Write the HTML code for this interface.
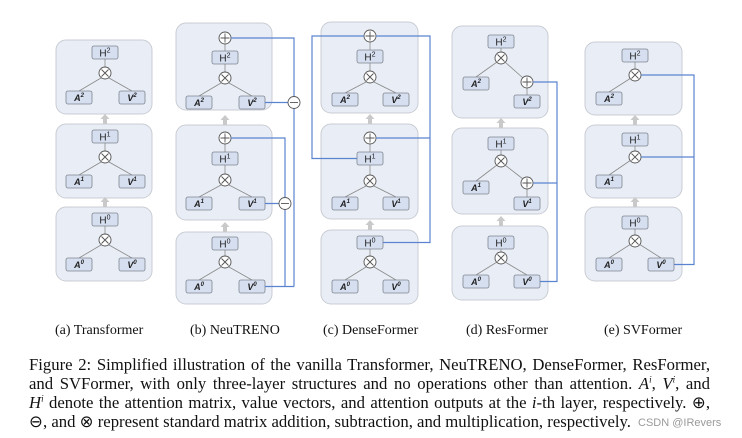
<!DOCTYPE html>
<html><head><meta charset="utf-8"><style>
body{margin:0;background:#fff;width:742px;height:438px;overflow:hidden;position:relative}
svg{position:absolute;left:0;top:0}
.blk{fill:#e9edf5;stroke:#c9ccd3;stroke-width:1}
.bx{fill:#d6dff0;stroke:#7f8590;stroke-width:.8}
.ln{stroke:#8a8a8a;stroke-width:.8;fill:none}
.op{fill:#fff;stroke:#555;stroke-width:.9}
.bl{stroke:#5b84d0;stroke-width:1.2;fill:none}
text.l{font-family:"Liberation Sans",sans-serif;font-size:10px;text-anchor:middle;fill:#222}
text.i{font-style:italic;font-weight:bold;font-size:9px}
.cap{position:absolute;font-family:"Liberation Serif",serif;font-size:14px;color:#111;white-space:nowrap}
.fl{position:absolute;left:29px;width:681px;height:19px;font-family:"Liberation Serif",serif;font-size:16.7px;line-height:19px;color:#111;text-align:justify;text-align-last:justify;white-space:nowrap}
.fl sup{font-size:9px;line-height:0}
.wm{position:absolute;left:638px;top:417px;font-family:"Liberation Sans",sans-serif;font-size:11px;color:#999}
</style></head><body>
<svg width="742" height="438" viewBox="0 0 742 438">
<defs>
<g id="tm"><circle class="op" r="6"/><path d="M-3.5-3.5L3.5 3.5M3.5-3.5L-3.5 3.5" stroke="#555" stroke-width=".9"/></g>
<g id="pl"><circle class="op" r="6"/><path d="M-4.5 0H4.5M0-4.5V4.5" stroke="#555" stroke-width=".9"/></g>
<g id="mi"><circle class="op" r="6"/><path d="M-4 0H4" stroke="#555" stroke-width=".9"/></g>
<g id="ar"><path d="M-2 0V-5H-4.5L0-10L4.5-5H2V0Z" fill="#c9c9c9"/></g>
</defs>

<!-- (a) -->
<g>
<rect class="blk" x="56" y="40" width="96" height="74" rx="10"/>
<rect class="blk" x="56" y="124" width="96" height="74" rx="10"/>
<rect class="blk" x="56" y="207" width="96" height="74" rx="10"/>
<use href="#ar" x="105" y="124"/><use href="#ar" x="105" y="207"/>
<path class="ln" d="M105 59V67M101 78L79 91M109 78L132 91M105 143V151M101 162L79 175M109 162L132 175M105 226V234M101 245L79 258M109 245L132 258"/>
<rect class="bx" x="92" y="46" width="26" height="13" rx="2"/><text class="l" x="105" y="56.5">H<tspan dy="-4" font-size="7">2</tspan></text>
<use href="#tm" x="105" y="73"/>
<rect class="bx" x="66" y="91" width="26" height="13" rx="2"/><text class="l i" x="79" y="101">A<tspan dy="-4" font-size="6">2</tspan></text>
<rect class="bx" x="119" y="91" width="26" height="13" rx="2"/><text class="l i" x="132" y="101">V<tspan dy="-4" font-size="6">2</tspan></text>
<rect class="bx" x="92" y="130" width="26" height="13" rx="2"/><text class="l" x="105" y="140.5">H<tspan dy="-4" font-size="7">1</tspan></text>
<use href="#tm" x="105" y="157"/>
<rect class="bx" x="66" y="175" width="26" height="13" rx="2"/><text class="l i" x="79" y="185">A<tspan dy="-4" font-size="6">1</tspan></text>
<rect class="bx" x="119" y="175" width="26" height="13" rx="2"/><text class="l i" x="132" y="185">V<tspan dy="-4" font-size="6">1</tspan></text>
<rect class="bx" x="92" y="213" width="26" height="13" rx="2"/><text class="l" x="105" y="223.5">H<tspan dy="-4" font-size="7">0</tspan></text>
<use href="#tm" x="105" y="240"/>
<rect class="bx" x="66" y="258" width="26" height="13" rx="2"/><text class="l i" x="79" y="268">A<tspan dy="-4" font-size="6">0</tspan></text>
<rect class="bx" x="119" y="258" width="26" height="13" rx="2"/><text class="l i" x="132" y="268">V<tspan dy="-4" font-size="6">0</tspan></text>
</g>

<!-- (b) -->
<g>
<rect class="blk" x="176" y="23" width="96" height="87" rx="10"/>
<rect class="blk" x="176" y="125" width="96" height="95" rx="10"/>
<rect class="blk" x="176" y="232" width="96" height="72" rx="10"/>
<use href="#ar" x="225" y="125"/><use href="#ar" x="225" y="232"/>
<path class="ln" d="M225 44V51M225 64V72M221 83L199 96M229 83L252 96M225 144V152M225 165V174M221 185L199 197M229 185L252 197M225 250V256M221 267L199 280M229 267L252 280"/>
<use href="#pl" x="225" y="38"/>
<rect class="bx" x="212" y="51" width="26" height="13" rx="2"/><text class="l" x="225" y="61.5">H<tspan dy="-4" font-size="7">2</tspan></text>
<use href="#tm" x="225" y="78"/>
<rect class="bx" x="186" y="96" width="26" height="13" rx="2"/><text class="l i" x="199" y="106">A<tspan dy="-4" font-size="6">2</tspan></text>
<rect class="bx" x="239" y="96" width="26" height="13" rx="2"/><text class="l i" x="252" y="106">V<tspan dy="-4" font-size="6">2</tspan></text>
<use href="#pl" x="225" y="138"/>
<rect class="bx" x="212" y="152" width="26" height="13" rx="2"/><text class="l" x="225" y="162.5">H<tspan dy="-4" font-size="7">1</tspan></text>
<use href="#tm" x="225" y="180"/>
<rect class="bx" x="186" y="197" width="26" height="13" rx="2"/><text class="l i" x="199" y="207">A<tspan dy="-4" font-size="6">1</tspan></text>
<rect class="bx" x="239" y="197" width="26" height="13" rx="2"/><text class="l i" x="252" y="207">V<tspan dy="-4" font-size="6">1</tspan></text>
<rect class="bx" x="212" y="237" width="26" height="13" rx="2"/><text class="l" x="225" y="247.5">H<tspan dy="-4" font-size="7">0</tspan></text>
<use href="#tm" x="225" y="262"/>
<rect class="bx" x="186" y="280" width="26" height="13" rx="2"/><text class="l i" x="199" y="290">A<tspan dy="-4" font-size="6">0</tspan></text>
<rect class="bx" x="239" y="280" width="26" height="13" rx="2"/><text class="l i" x="252" y="290">V<tspan dy="-4" font-size="6">0</tspan></text>
<path class="bl" d="M231 38H294V286.5M231 138H285V286.5M265 286.5H294M265 102.5H288M265 203.5H279"/>
<use href="#mi" x="294" y="102.5"/><use href="#mi" x="285" y="203.5"/>
</g>

<!-- (c) -->
<g>
<rect class="blk" x="321" y="22" width="97" height="91" rx="10"/>
<rect class="blk" x="321" y="124" width="97" height="95" rx="10"/>
<rect class="blk" x="321" y="230" width="97" height="74" rx="10"/>
<use href="#ar" x="370" y="124"/><use href="#ar" x="370" y="230"/>
<path class="ln" d="M370 42V50M370 63V71M366 82L345 93M374 82L396 93M370 144V152M370 165V175M366 186L345 197M374 186L396 197M370 249V256M366 267L345 280M374 267L396 280"/>
<use href="#pl" x="370" y="36"/>
<rect class="bx" x="357" y="50" width="26" height="13" rx="2"/><text class="l" x="370" y="60.5">H<tspan dy="-4" font-size="7">2</tspan></text>
<use href="#tm" x="370" y="77"/>
<rect class="bx" x="332" y="93" width="26" height="13" rx="2"/><text class="l i" x="345" y="103">A<tspan dy="-4" font-size="6">2</tspan></text>
<rect class="bx" x="383" y="93" width="26" height="13" rx="2"/><text class="l i" x="396" y="103">V<tspan dy="-4" font-size="6">2</tspan></text>
<use href="#pl" x="370" y="138"/>
<rect class="bx" x="357" y="152" width="26" height="13" rx="2"/><text class="l" x="370" y="162.5">H<tspan dy="-4" font-size="7">1</tspan></text>
<use href="#tm" x="370" y="181"/>
<rect class="bx" x="332" y="197" width="26" height="13" rx="2"/><text class="l i" x="345" y="207">A<tspan dy="-4" font-size="6">1</tspan></text>
<rect class="bx" x="383" y="197" width="26" height="13" rx="2"/><text class="l i" x="396" y="207">V<tspan dy="-4" font-size="6">1</tspan></text>
<rect class="bx" x="357" y="236" width="26" height="13" rx="2"/><text class="l" x="370" y="246.5">H<tspan dy="-4" font-size="7">0</tspan></text>
<use href="#tm" x="370" y="262"/>
<rect class="bx" x="332" y="280" width="26" height="13" rx="2"/><text class="l i" x="345" y="290">A<tspan dy="-4" font-size="6">0</tspan></text>
<rect class="bx" x="383" y="280" width="26" height="13" rx="2"/><text class="l i" x="396" y="290">V<tspan dy="-4" font-size="6">0</tspan></text>
<path class="bl" d="M357 158.5H312V36H364M376 36H430V242.5H383M376 138H430"/>
</g>

<!-- (d) -->
<g>
<rect class="blk" x="452" y="26" width="96" height="92" rx="10"/>
<rect class="blk" x="452" y="128" width="96" height="86" rx="10"/>
<rect class="blk" x="452" y="226" width="96" height="74" rx="10"/>
<use href="#ar" x="501" y="128"/><use href="#ar" x="501" y="226"/>
<path class="ln" d="M501 48V52M497 62L476 77M505 62L523 78M527 88V95M501 150V155M497 165L476 181M505 165L523 179M527 189V197M501 249V252M497 262L476 275M505 262L527 275"/>
<rect class="bx" x="488" y="35" width="26" height="13" rx="2"/><text class="l" x="501" y="45.5">H<tspan dy="-4" font-size="7">2</tspan></text>
<use href="#tm" x="501" y="58"/>
<rect class="bx" x="463" y="77" width="26" height="13" rx="2"/><text class="l i" x="476" y="87">A<tspan dy="-4" font-size="6">2</tspan></text>
<use href="#pl" x="527" y="82"/>
<rect class="bx" x="514" y="95" width="26" height="13" rx="2"/><text class="l i" x="527" y="105">V<tspan dy="-4" font-size="6">2</tspan></text>
<rect class="bx" x="488" y="137" width="26" height="13" rx="2"/><text class="l" x="501" y="147.5">H<tspan dy="-4" font-size="7">1</tspan></text>
<use href="#tm" x="501" y="161"/>
<rect class="bx" x="463" y="181" width="26" height="13" rx="2"/><text class="l i" x="476" y="191">A<tspan dy="-4" font-size="6">1</tspan></text>
<use href="#pl" x="527" y="183"/>
<rect class="bx" x="514" y="197" width="26" height="13" rx="2"/><text class="l i" x="527" y="207">V<tspan dy="-4" font-size="6">1</tspan></text>
<rect class="bx" x="488" y="236" width="26" height="13" rx="2"/><text class="l" x="501" y="246.5">H<tspan dy="-4" font-size="7">0</tspan></text>
<use href="#tm" x="501" y="258"/>
<rect class="bx" x="463" y="275" width="26" height="13" rx="2"/><text class="l i" x="476" y="285">A<tspan dy="-4" font-size="6">0</tspan></text>
<rect class="bx" x="514" y="275" width="26" height="13" rx="2"/><text class="l i" x="527" y="285">V<tspan dy="-4" font-size="6">0</tspan></text>
<path class="bl" d="M533 82H557V281.5H540M533 183H557"/>
</g>

<!-- (e) -->
<g>
<rect class="blk" x="585" y="42" width="97" height="73" rx="10"/>
<rect class="blk" x="585" y="125" width="97" height="73" rx="10"/>
<rect class="blk" x="585" y="207" width="97" height="74" rx="10"/>
<use href="#ar" x="635" y="125"/><use href="#ar" x="635" y="207"/>
<path class="ln" d="M635 62V69M631 78L609 92M635 146V151M631 160L609 175M635 229V235M631 244L609 258M639 244L661 258"/>
<rect class="bx" x="622" y="49" width="26" height="13" rx="2"/><text class="l" x="635" y="59.5">H<tspan dy="-4" font-size="7">2</tspan></text>
<use href="#tm" x="635" y="75"/>
<rect class="bx" x="596" y="92" width="26" height="13" rx="2"/><text class="l i" x="609" y="102">A<tspan dy="-4" font-size="6">2</tspan></text>
<rect class="bx" x="622" y="133" width="26" height="13" rx="2"/><text class="l" x="635" y="143.5">H<tspan dy="-4" font-size="7">1</tspan></text>
<use href="#tm" x="635" y="157"/>
<rect class="bx" x="596" y="175" width="26" height="13" rx="2"/><text class="l i" x="609" y="185">A<tspan dy="-4" font-size="6">1</tspan></text>
<rect class="bx" x="622" y="216" width="26" height="13" rx="2"/><text class="l" x="635" y="226.5">H<tspan dy="-4" font-size="7">0</tspan></text>
<use href="#tm" x="635" y="241"/>
<rect class="bx" x="596" y="258" width="26" height="13" rx="2"/><text class="l i" x="609" y="268">A<tspan dy="-4" font-size="6">0</tspan></text>
<rect class="bx" x="648" y="258" width="26" height="13" rx="2"/><text class="l i" x="661" y="268">V<tspan dy="-4" font-size="6">0</tspan></text>
<path class="bl" d="M641 75H694V264.5H674M641 157H694"/>
</g>
</svg>

<div class="cap" style="left:55px;top:323px">(a) Transformer</div>
<div class="cap" style="left:190px;top:323px">(b) NeuTRENO</div>
<div class="cap" style="left:323px;top:323px">(c) DenseFormer</div>
<div class="cap" style="left:466px;top:323px">(d) ResFormer</div>
<div class="cap" style="left:604px;top:323px">(e) SVFormer</div>

<div class="fl" style="top:355px">Figure 2: Simplified illustration of the vanilla Transformer, NeuTRENO, DenseFormer, ResFormer,</div>
<div class="fl" style="top:374px">and SVFormer, with only three-layer structures and no operations other than attention. <i>A<sup>i</sup></i>, <i>V<sup>i</sup></i>, and</div>
<div class="fl" style="top:393px"><i>H<sup>i</sup></i> denote the attention matrix, value vectors, and attention outputs at the <i>i</i>-th layer, respectively. ⊕,</div>
<div class="fl" style="top:412px;text-align-last:left">⊖, and ⊗ represent standard matrix addition, subtraction, and multiplication, respectively.</div>
<div class="wm">CSDN @IRevers</div>
</body></html>
